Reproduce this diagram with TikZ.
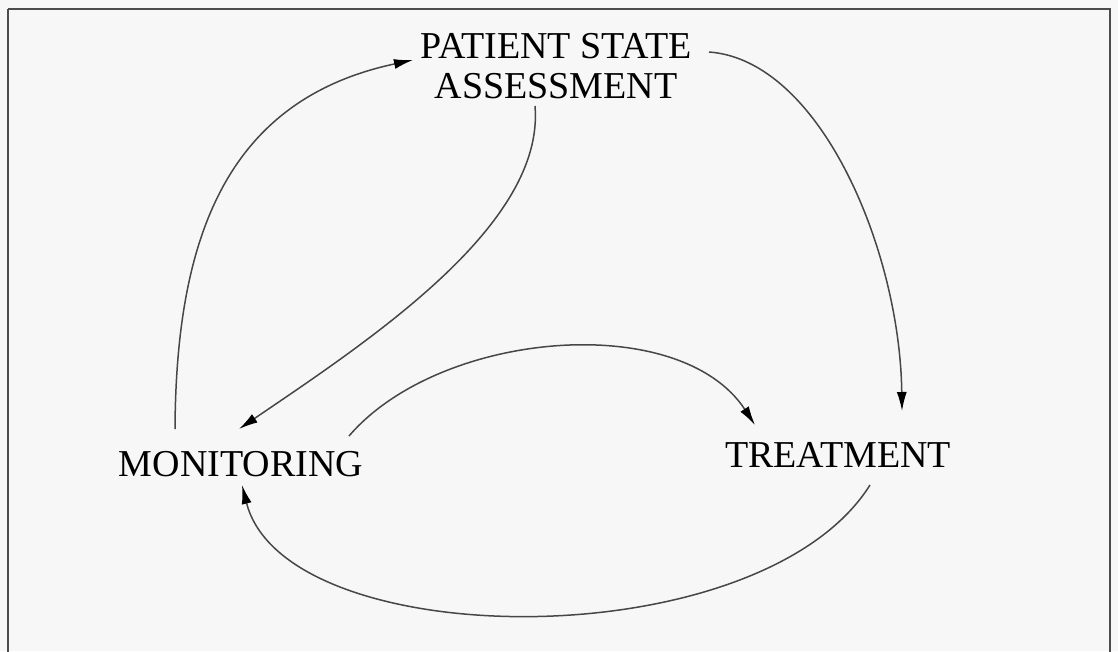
\documentclass[tikz,border=0pt]{standalone}
\usepackage{fontspec}
\setmainfont{Liberation Serif}
\usetikzlibrary{arrows.meta}
\begin{document}
\begin{tikzpicture}[x=1pt,y=-1pt,
  label/.style={inner sep=0pt, font=\fontsize{38}{40}\selectfont, align=center},
  flow/.style={draw=black!72, line width=1.5pt,
    -{Latex[length=19pt,width=10pt,black]}},
  frame/.style={draw=black!70, line width=1.8pt}]
  % page area and frame
  \useasboundingbox (0,0) rectangle (1118,651);
  \fill[black!3] (0,0) rectangle (1118,651);
  \draw[frame] (8,9) -- (1110,9) -- (1110,662) (8,9) -- (8,662);

  % stages of the cycle
  \node[label] (pat) at (556,66) {PATIENT STATE\\ASSESSMENT};
  \node[label] (mon) at (241,464) {MONITORING};
  \node[label] (tre) at (838,455) {TREATMENT};

  % connector end points around the labels
  \coordinate (monTop)   at (175,429);
  \coordinate (monTopR)  at (239,429);
  \coordinate (monRight) at (349,436);
  \coordinate (monBot)   at (242,485);
  \coordinate (patLeft)  at (413,60);
  \coordinate (patRight) at (709,52);
  \coordinate (patBot)   at (535,106);
  \coordinate (treTop)   at (902,411);
  \coordinate (treTopL)  at (755,425);
  \coordinate (treBot)   at (870,485);

  % arrows of the cycle
  \draw[flow] (monTop) .. controls (176,240) and (225,100) .. (patLeft);
  \draw[flow] (patBot) .. controls (545,225) and (370,340) .. (monTopR);
  \draw[flow] (patRight) .. controls (820,60) and (900,250) .. (treTop);
  \draw[flow] (monRight) .. controls (440,330) and (680,310) .. (treTopL);
  \draw[flow] (treBot) .. controls (760,660) and (285,655) .. (monBot);
\end{tikzpicture}
\end{document}
